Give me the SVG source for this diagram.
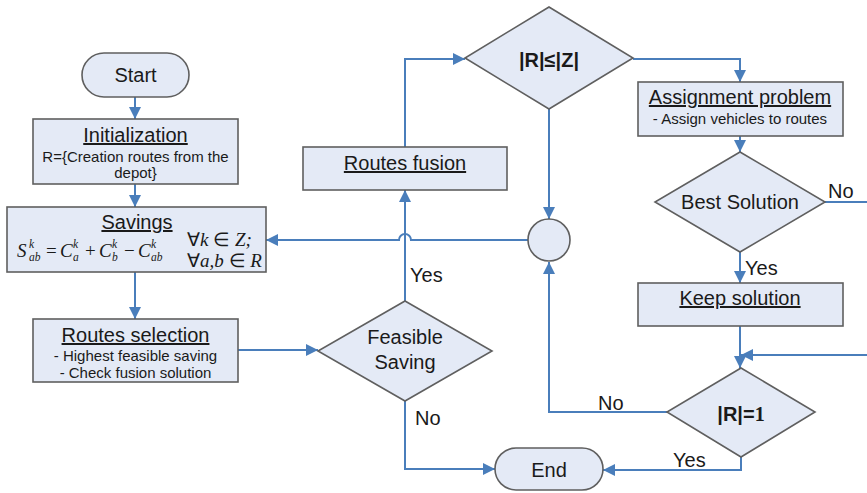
<svg xmlns="http://www.w3.org/2000/svg" width="867" height="493" viewBox="0 0 867 493">
<style>
.shape{fill:#e4eaf6;stroke:#5f5f5f;stroke-width:1.6}
.t{font-family:"Liberation Sans",Arial,sans-serif;font-size:20px;fill:#1a1a1a;text-anchor:middle}
.u{text-decoration:underline}
.s{font-family:"Liberation Sans",Arial,sans-serif;font-size:15px;fill:#1a1a1a;text-anchor:middle}
.b{font-weight:bold}
.m{font-family:"Liberation Serif","Times New Roman",serif;font-style:italic;font-size:19px;fill:#1a1a1a}
.m .n{font-style:normal}
.sm{font-size:11.5px}
.c{fill:none;stroke:#4a7ebb;stroke-width:2}
.l{font-family:"Liberation Sans",Arial,sans-serif;font-size:20px;fill:#1a1a1a}
</style>
<defs>
<marker id="ar" viewBox="0 0 10 10" refX="10" refY="5" markerWidth="6" markerHeight="6" orient="auto" markerUnits="strokeWidth">
<path d="M0,0 L10,5 L0,10 z" fill="#4a7ebb"/>
</marker>
</defs>

<g id="connectors">
<path class="c" d="M135,97 V119" marker-end="url(#ar)"/>
<path class="c" d="M135,184 V207" marker-end="url(#ar)"/>
<path class="c" d="M135,272 V319" marker-end="url(#ar)"/>
<path class="c" d="M238,350 H318" marker-end="url(#ar)"/>
<path class="c" d="M405,301 V190" marker-end="url(#ar)"/>
<path class="c" d="M405,401 V469 H495" marker-end="url(#ar)"/>
<path class="c" d="M405,147 V59 H465" marker-end="url(#ar)"/>
<path class="c" d="M633,59 H740 V82" marker-end="url(#ar)"/>
<path class="c" d="M549,109 V219" marker-end="url(#ar)"/>
<path class="c" d="M528,240 H411 A6,6 0 0 0 399,240 H266" marker-end="url(#ar)"/>
<path class="c" d="M740,136 V152" marker-end="url(#ar)"/>
<path class="c" d="M825,202 H867"/>
<path class="c" d="M740,252 V283" marker-end="url(#ar)"/>
<path class="c" d="M740,326 V368" marker-end="url(#ar)"/>
<path class="c" d="M867,355 H741" marker-end="url(#ar)"/>
<path class="c" d="M667,412 H549 V262" marker-end="url(#ar)"/>
<path class="c" d="M741,457 V470 H603" marker-end="url(#ar)"/>
<text class="l" x="410" y="282">Yes</text>
<text class="l" x="415" y="425">No</text>
<text class="l" x="828" y="198">No</text>
<text class="l" x="745" y="275">Yes</text>
<text class="l" x="598" y="410">No</text>
<text class="l" x="673" y="467">Yes</text>
</g>

<g id="start">
<rect class="shape" x="82" y="53" width="107" height="44" rx="22"/>
<text class="t" x="135.5" y="82">Start</text>
</g>

<g id="initialization">
<rect class="shape" x="33" y="119" width="205" height="65"/>
<text class="t u" x="135.5" y="142">Initialization</text>
<text class="s" x="135.5" y="162">R={Creation routes from the</text>
<text class="s" x="135.5" y="178">depot}</text>
</g>

<g id="savings">
<rect class="shape" x="7" y="207" width="259" height="65"/>
<text class="t u" x="137" y="229">Savings</text>
<text class="m"><tspan x="17" y="257">S</tspan><tspan class="sm" x="29" y="248">k</tspan><tspan class="sm" x="29" y="261">ab</tspan><tspan class="n" x="46" y="257">=</tspan><tspan x="60" y="257">C</tspan><tspan class="sm" x="73" y="248">k</tspan><tspan class="sm" x="73" y="261">a</tspan><tspan class="n" x="85" y="257">+</tspan><tspan x="99" y="257">C</tspan><tspan class="sm" x="112" y="248">k</tspan><tspan class="sm" x="112" y="261">b</tspan><tspan class="n" x="124" y="257">−</tspan><tspan x="138" y="257">C</tspan><tspan class="sm" x="151" y="248">k</tspan><tspan class="sm" x="151" y="261">ab</tspan></text>
<text class="m" x="187" y="246"><tspan class="n">∀</tspan>k <tspan class="n">∈</tspan> Z;</text>
<text class="m" x="187" y="267"><tspan class="n">∀</tspan>a,b <tspan class="n">∈</tspan> R</text>
</g>

<g id="routes-selection">
<rect class="shape" x="33" y="319" width="205" height="63"/>
<text class="t u" x="135.5" y="342">Routes selection</text>
<text class="s" x="135.5" y="361">- Highest feasible saving</text>
<text class="s" x="135.5" y="378">- Check fusion solution</text>
</g>

<g id="feasible-saving">
<polygon class="shape" points="405,301 492,351 405,401 318,351"/>
<text class="t" x="405" y="344">Feasible</text>
<text class="t" x="405" y="369">Saving</text>
</g>

<g id="routes-fusion">
<rect class="shape" x="303" y="147" width="204" height="43"/>
<text class="t u" x="405" y="170">Routes fusion</text>
</g>

<g id="r-le-z">
<polygon class="shape" points="549,7 633,58 549,109 465,58"/>
<text class="t b" x="549" y="67">|R|≤|Z|</text>
</g>

<g id="merge-circle">
<circle class="shape" cx="549" cy="240" r="21"/>
</g>

<g id="assignment">
<rect class="shape" x="638" y="82" width="205" height="54"/>
<text class="t u" x="740" y="104">Assignment problem</text>
<text class="s" x="740" y="124">- Assign vehicles to routes</text>
</g>

<g id="best-solution">
<polygon class="shape" points="740,152 825,202 740,252 655,202"/>
<text class="t" x="740" y="209">Best Solution</text>
</g>

<g id="keep-solution">
<rect class="shape" x="638" y="283" width="205" height="43"/>
<text class="t u" x="740" y="305">Keep solution</text>
</g>

<g id="r-eq-1">
<polygon class="shape" points="741,368 815,412 741,457 667,412"/>
<text class="t b" x="741" y="421">|R|=<tspan font-family="Liberation Serif,serif">1</tspan></text>
</g>

<g id="end">
<rect class="shape" x="495" y="448" width="108" height="42" rx="21"/>
<text class="t" x="549" y="477">End</text>
</g>
</svg>
